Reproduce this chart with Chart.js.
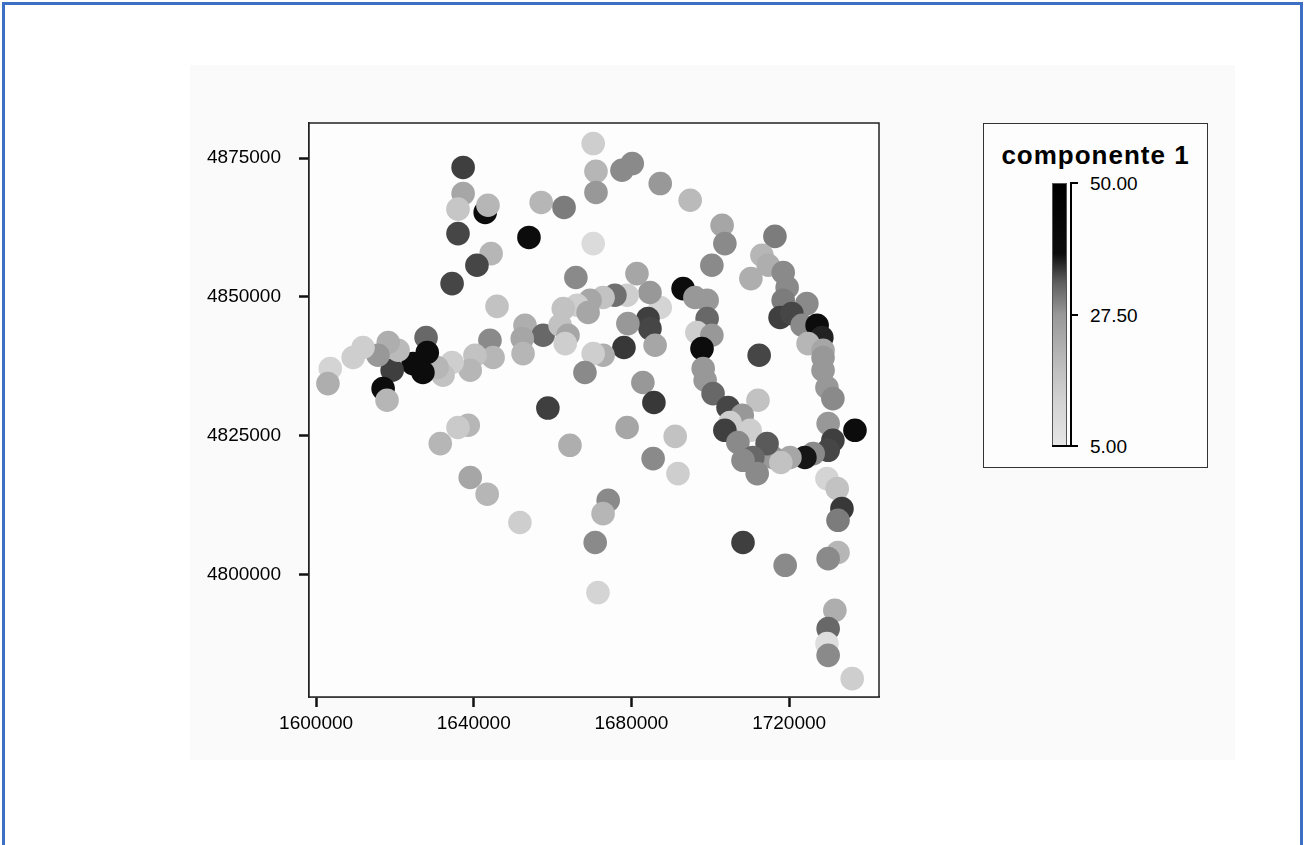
<!DOCTYPE html>
<html>
<head>
<meta charset="utf-8">
<script src="https://cdn.jsdelivr.net/npm/chart.js@4.4.1/dist/chart.umd.min.js"></script>
<style>
  html, body { margin: 0; padding: 0; background: #fff; overflow: hidden; }
  body { width: 1307px; height: 845px; position: relative; font-family: 'Liberation Sans', Arial, sans-serif; }
  #frame { position: absolute; left: 2px; top: 2px; width: 1301px; height: 900px; border: 3px solid #3d6fc2; box-sizing: border-box; }
  #scan { position: absolute; left: 190px; top: 65px; width: 1045px; height: 695px; background: #fafafa; }
  #chart { position: absolute; left: 0; top: 0; }
  #legend { position: absolute; left: 983px; top: 123px; width: 225px; height: 345px; border: 1px solid #333; box-sizing: border-box; background: #fdfdfd; }
  #legend .title { position: absolute; left: 0; top: 18px; width: 100%; text-align: center; font-weight: bold; font-size: 26px; line-height: 26px; letter-spacing: 1px; color: #000; }
  #bar { position: absolute; left: 68px; top: 59px; width: 15px; height: 263px; border: 1px solid #555; box-sizing: border-box; }
  #axisline { position: absolute; left: 86px; top: 59px; width: 2px; height: 264px; background: #000; }
  .tick { position: absolute; height: 2px; background: #000; }
  .lab { position: absolute; left: 106px; font-size: 19px; line-height: 20px; color: #000; }
</style>
</head>
<body>
<div id="frame"></div>
<div id="scan"></div>
<canvas id="chart" width="1307" height="845"></canvas>
<div id="legend">
  <div class="title">componente 1</div>
  <div id="bar"></div>
  <div id="axisline"></div>
</div>
<script>
var xs = [1637300, 1637300, 1636000, 1642900, 1643600, 1636000, 1654000, 1657100, 1662900, 1644400,
  1640800, 1634500, 1645900, 1665900, 1670300, 1671000, 1671000, 1670300, 1677600, 1680200,
  1687300, 1694900, 1703000, 1703700, 1700400, 1716400, 1713100, 1714700, 1710300, 1718500,
  1719500, 1724500, 1718500, 1717700, 1720700, 1723300, 1727100, 1728300, 1724800, 1728600,
  1728600, 1712400, 1728600, 1729600, 1731100, 1729900, 1736700, 1731100, 1729900, 1726100,
  1724000, 1720200, 1715900, 1717900, 1729600, 1732200, 1733400, 1732400, 1732400, 1729900,
  1719000, 1731600, 1729900, 1729600, 1729900, 1736000, 1708300, 1693100, 1696100, 1699200,
  1699200, 1696600, 1700400, 1697900, 1698200, 1698700, 1700700, 1712100, 1704500, 1708100,
  1705000, 1703700, 1710100, 1707000, 1714400, 1710800, 1708300, 1711900, 1687300, 1684700,
  1678900, 1675800, 1672800, 1669500, 1666200, 1662700, 1669000, 1681400, 1684200, 1684700,
  1679100, 1686000, 1678100, 1672800, 1670300, 1668200, 1682900, 1685700, 1678900, 1691100,
  1685500, 1691800, 1674100, 1672800, 1670800, 1671500, 1653000, 1657600, 1661900, 1663900,
  1663200, 1652300, 1644100, 1644900, 1652500, 1640300, 1639100, 1634500, 1632200, 1630700,
  1627900, 1628200, 1624600, 1627100, 1619300, 1617000, 1618000, 1620800, 1618300, 1615700,
  1611900, 1609400, 1603600, 1603000, 1658800, 1638600, 1636000, 1631500, 1664400, 1639100,
  1643400, 1651700];
var ys = [4873300, 4868600, 4865800, 4865200, 4866500, 4861400, 4860700, 4867000, 4866100, 4857800,
  4855700, 4852400, 4848300, 4853500, 4877600, 4872600, 4868800, 4859600, 4872800, 4874000,
  4870400, 4867400, 4862900, 4859600, 4855700, 4860900, 4857500, 4855700, 4853300, 4854400,
  4851700, 4848800, 4849400, 4846300, 4847000, 4844900, 4844900, 4842700, 4841600, 4840400,
  4839100, 4839500, 4836800, 4833700, 4831700, 4827200, 4826000, 4824200, 4822400, 4821800,
  4821100, 4821100, 4821100, 4820200, 4817300, 4815500, 4811900, 4809800, 4804000, 4802900,
  4801700, 4793600, 4790300, 4787600, 4785500, 4781300, 4805800, 4851500, 4849900, 4849400,
  4846100, 4843600, 4843100, 4840700, 4837100, 4835000, 4832600, 4831400, 4830100, 4828700,
  4827400, 4826000, 4826000, 4823800, 4823600, 4821100, 4820600, 4818200, 4848100, 4850800,
  4850300, 4850300, 4849900, 4849400, 4848500, 4847900, 4847200, 4854200, 4846100, 4844300,
  4845200, 4841300, 4840900, 4839500, 4839800, 4836400, 4834600, 4831000, 4826500, 4824900,
  4820900, 4818200, 4813400, 4811000, 4805800, 4796800, 4844900, 4843100, 4844900, 4843100,
  4841600, 4842500, 4842200, 4839100, 4839800, 4839500, 4836800, 4838200, 4835900, 4837300,
  4842700, 4840000, 4838000, 4836400, 4836800, 4833500, 4831400, 4840400, 4841800, 4839500,
  4840900, 4839100, 4837100, 4834400, 4830000, 4826900, 4826500, 4823600, 4823300, 4817500,
  4814500, 4809400];
var comp = [40, 22, 14, 50, 18, 38, 50, 18, 30, 18,
  38, 38, 15, 28, 12, 18, 25, 8, 28, 28,
  25, 17, 22, 28, 28, 30, 18, 20, 20, 28,
  28, 28, 30, 40, 38, 28, 50, 45, 18, 22,
  25, 38, 25, 25, 28, 25, 50, 40, 38, 28,
  48, 22, 25, 15, 10, 15, 42, 30, 18, 28,
  28, 20, 33, 7, 28, 12, 40, 50, 25, 25,
  33, 12, 25, 50, 25, 25, 33, 15, 38, 25,
  12, 40, 12, 28, 35, 33, 28, 28, 10, 25,
  12, 32, 15, 22, 12, 15, 22, 22, 40, 38,
  25, 22, 42, 20, 12, 28, 25, 42, 22, 15,
  28, 12, 28, 18, 28, 10, 20, 33, 15, 22,
  12, 22, 28, 18, 18, 15, 18, 12, 15, 18,
  33, 50, 50, 50, 40, 50, 18, 17, 20, 25,
  12, 12, 10, 20, 40, 18, 13, 18, 20, 22,
  18, 12];

var xTicks = [1600000, 1640000, 1680000, 1720000];
var yTicks = [4800000, 4825000, 4850000, 4875000];
var barTicks = [5, 27.5, 50];

// value -> gray level for the dots
var grayStops = [[5, 228], [12, 206], [18, 182], [22, 166], [25, 152], [28, 138], [33, 104], [38, 70], [42, 56], [45, 34], [50, 12]];
// the printed colour bar goes solid black above ~38
var barStops = [[5, 230], [12, 212], [18, 192], [27.5, 152], [33, 95], [36, 45], [38, 12], [50, 0]];

function grayFrom(stopsList, v) {
    var g = stopsList[0][1];
    for (var i = 1; i < stopsList.length; i++) {
        var a = stopsList[i - 1], b = stopsList[i];
        if (v <= b[0]) {
            g = a[1] + (b[1] - a[1]) * (v - a[0]) / (b[0] - a[0]);
            break;
        }
        g = b[1];
    }
    g = Math.round(g);
    return 'rgb(' + g + ',' + g + ',' + g + ')';
}
function grayFor(v) { return grayFrom(grayStops, v); }

var frameBox = {
    id: 'frameBox',
    beforeDatasetsDraw: function(chart) {
        var a = chart.chartArea, ctx = chart.ctx;
        ctx.save();
        ctx.fillStyle = '#fdfdfd';
        ctx.fillRect(a.left, a.top, a.right - a.left, a.bottom - a.top);
        ctx.restore();
    },
    afterDraw: function(chart) {
        var a = chart.chartArea, ctx = chart.ctx;
        ctx.save();
        ctx.strokeStyle = '#222';
        ctx.lineWidth = 1.5;
        ctx.strokeRect(a.left, a.top, a.right - a.left, a.bottom - a.top);
        ctx.restore();
    }
};

var tickFont = {family: "'Liberation Sans', Arial, sans-serif", size: 19};

var chart = new Chart(document.getElementById('chart').getContext('2d'), {
    type: 'scatter',
    data: {
        datasets: [{
            data: xs.map(function(x, i) { return {x: x, y: ys[i]}; }),
            backgroundColor: comp.map(grayFor),
            pointBackgroundColor: comp.map(grayFor),
            pointBorderWidth: 0,
            pointRadius: 11.8,
            pointHoverRadius: 11.8
        }]
    },
    options: {
        responsive: false,
        animation: false,
        devicePixelRatio: 1,
        layout: {padding: {left: 0, top: 123, right: 428, bottom: 108}},
        plugins: {legend: {display: false}, tooltip: {enabled: false}},
        scales: {
            x: {
                type: 'linear',
                min: 1598200,
                max: 1742800,
                afterBuildTicks: function(s) { s.ticks = xTicks.map(function(v) { return {value: v}; }); },
                afterFit: function(s) { s.height = 40; },
                ticks: {color: '#000', font: tickFont, padding: 5, maxRotation: 0, autoSkip: false,
                    callback: function(v) { return String(v); }},
                grid: {drawOnChartArea: false, drawTicks: true, tickLength: 10, tickWidth: 2.5, tickColor: '#111'},
                border: {display: true, color: '#222', width: 1.5}
            },
            y: {
                type: 'linear',
                min: 4778000,
                max: 4881300,
                afterBuildTicks: function(s) { s.ticks = yTicks.map(function(v) { return {value: v}; }); },
                afterFit: function(s) { s.width = 309; },
                ticks: {color: '#000', font: tickFont, padding: 18, autoSkip: false,
                    callback: function(v) { return String(v); }},
                grid: {drawOnChartArea: false, drawTicks: true, tickLength: 10, tickWidth: 2.5, tickColor: '#111'},
                border: {display: true, color: '#222', width: 1.5}
            }
        }
    },
    plugins: [frameBox]
});

// colour bar of the legend
var legend = document.getElementById('legend');
var bar = document.getElementById('bar');
var barTop = 59, barH = 263;
var stops = [];
for (var i = 0; i < barStops.length; i++) {
    var v = barStops[i][0];
    stops.push(grayFrom(barStops, v) + ' ' + ((v - 5) / 45 * 100).toFixed(1) + '%');
}
bar.style.background = 'linear-gradient(to top, ' + stops.join(', ') + ')';

barTicks.forEach(function(v) {
    var y = barTop + barH - (v - 5) / 45 * barH;
    var t = document.createElement('div');
    t.className = 'tick';
    t.style.left = (v === 5 ? 68 : 86) + 'px';
    t.style.width = (v === 5 ? 26 : 8) + 'px';
    t.style.top = (y - 1) + 'px';
    legend.appendChild(t);
    var l = document.createElement('div');
    l.className = 'lab';
    l.style.top = (y - 9) + 'px';
    l.textContent = v.toFixed(2);
    legend.appendChild(l);
});
</script>
</body>
</html>
